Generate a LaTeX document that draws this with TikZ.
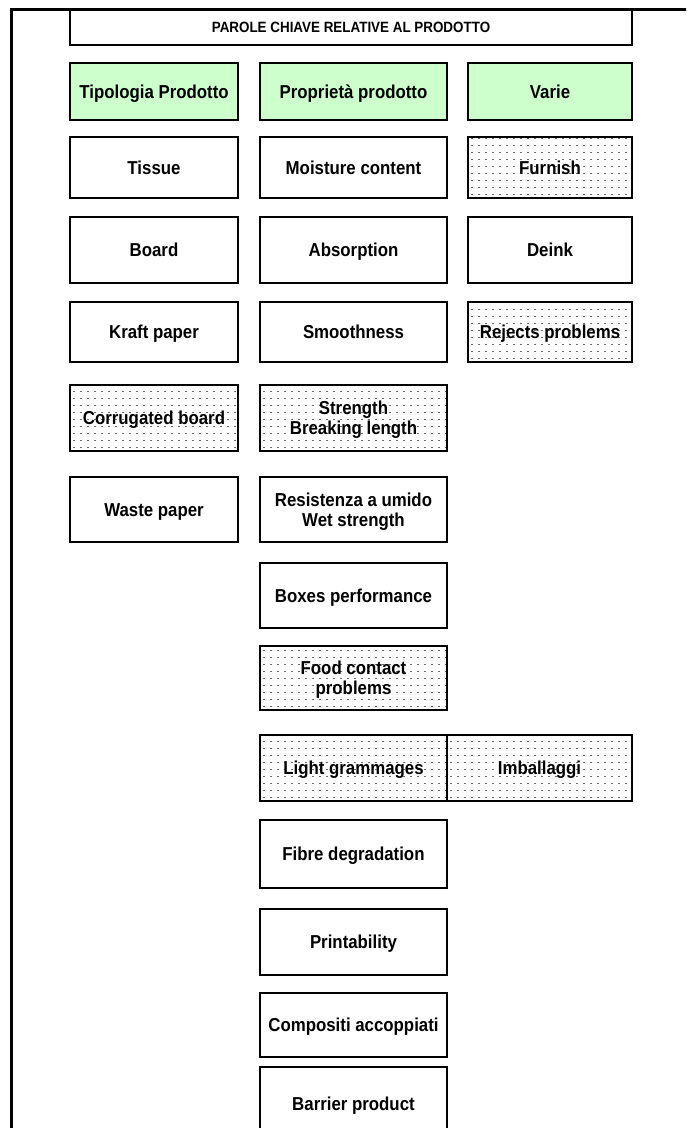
\documentclass[tikz,border=0pt]{standalone}
\usepackage{fontspec}
\setmainfont{Liberation Sans}[FakeStretch=0.9]
\definecolor{headgreen}{HTML}{CCFFCC}
\definecolor{dotgray}{HTML}{6A6A6A}
\begin{document}
\begin{tikzpicture}[x=1pt,y=-1pt,
  box/.style={draw=black, line width=2pt, inner sep=0pt, align=center,
    text height=13.4pt, text depth=0pt,
    font=\bfseries\fontsize{18.7}{20}\selectfont},
  twoline/.style={text height=33.4pt, text depth=0pt},
  titlebox/.style={box, text height=10.7pt, text depth=0pt,
    font=\bfseries\fontsize{14.9}{17}\selectfont},
  headbox/.style={box, fill=headgreen},
  dotbox/.style={box, path picture={
    \foreach \k in {0,...,11}{
      \draw[dotgray, line width=0.9pt, dash pattern=on 1.7pt off 5.3pt, dash phase=-3pt]
        ([yshift=3.5pt+\k*7pt]path picture bounding box.south west) --
        ([yshift=3.5pt+\k*7pt]path picture bounding box.south east);
    }}},
  c1/.style={minimum width=168pt},
  c2/.style={minimum width=187pt},
  c3/.style={minimum width=164pt},
  c4/.style={minimum width=185pt}
]
\useasboundingbox (0,0) rectangle (686,1128);
\clip (0,0) rectangle (686,1128);

% outer frame: top and left rules
\coordinate (frameTR) at (690,9.5);
\coordinate (frameTL) at (11.5,9.5);
\coordinate (frameBL) at (11.5,1135);
\draw[line width=3pt] (frameTR) -- (frameTL) -- (frameBL);

% title
\node[titlebox, minimum width=562pt, minimum height=35pt] (title) at (351,27.5)
  {PAROLE CHIAVE RELATIVE AL PRODOTTO};

% column headers
\node[headbox, c1, minimum height=57pt] (h1) at (154,91.5) {Tipologia Prodotto};
\node[headbox, c2, minimum height=57pt] (h2) at (353.5,91.5) {Proprietà prodotto};
\node[headbox, c3, minimum height=57pt] (h3) at (550,91.5) {Varie};

% first column
\node[box, c1, minimum height=61pt] (tissue) at (154,167.5) {Tissue};
\node[box, c1, minimum height=66pt] (board) at (154,250) {Board};
\node[box, c1, minimum height=60pt] (kraft) at (154,332) {Kraft paper};
\node[dotbox, c1, minimum height=66pt] (corrugated) at (154,418) {Corrugated board};
\node[box, c1, minimum height=65pt] (waste) at (154,509.5) {Waste paper};

% second column
\node[box, c2, minimum height=61pt] (moisture) at (353.5,167.5) {Moisture content};
\node[box, c2, minimum height=66pt] (absorption) at (353.5,250) {Absorption};
\node[box, c2, minimum height=60pt] (smooth) at (353.5,332) {Smoothness};
\node[dotbox, twoline, c2, minimum height=66pt] (strength) at (353.5,418) {Strength\\Breaking length};
\node[box, twoline, c2, minimum height=65pt] (wet) at (353.5,509.5) {Resistenza a umido\\Wet strength};
\node[box, c2, minimum height=65pt] (boxes) at (353.5,595.5) {Boxes performance};
\node[dotbox, twoline, c2, minimum height=64pt] (food) at (353.5,678) {Food contact\\problems};
\node[dotbox, c2, minimum height=66pt] (light) at (353.5,768) {Light grammages};
\node[dotbox, c4, minimum height=66pt] (imball) at (539.5,768) {Imballaggi};
\node[box, c2, minimum height=68pt] (fibre) at (353.5,854) {Fibre degradation};
\node[box, c2, minimum height=66pt] (print) at (353.5,942) {Printability};
\node[box, c2, minimum height=64pt] (compositi) at (353.5,1025) {Compositi accoppiati};
\node[box, c2, minimum height=73pt] (barrier) at (353.5,1103.5) {Barrier product};

% third column
\node[dotbox, c3, minimum height=61pt] (furnish) at (550,167.5) {Furnish};
\node[box, c3, minimum height=66pt] (deink) at (550,250) {Deink};
\node[dotbox, c3, minimum height=60pt] (rejects) at (550,332) {Rejects problems};
\end{tikzpicture}
\end{document}
